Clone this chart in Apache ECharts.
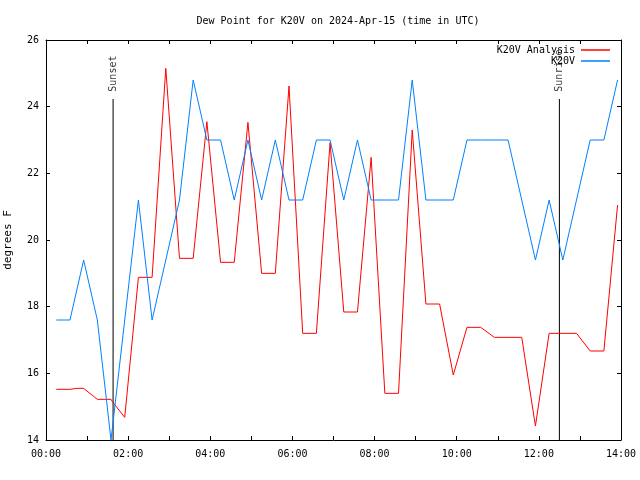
<!DOCTYPE html>
<html><head><meta charset="utf-8">
<script src="https://cdn.jsdelivr.net/npm/echarts@6/dist/echarts.min.js"></script>
<style>html,body{margin:0;padding:0;background:#fff}#c{width:640px;height:480px}</style>
</head><body><div id="c"></div>
<script>
const titleText = 'Dew Point for K20V on 2024-Apr-15 (time in UTC)';
const yAxisName = 'degrees F';
const seriesNames = ['K20V Analysis', 'K20V'];

const obsTimes = ['00:15','00:35','00:55','01:15','01:35','01:55','02:15','02:35','02:55','03:15',
  '03:35','03:55','04:15','04:35','04:55','05:15','05:35','05:55','06:15','06:35',
  '06:55','07:15','07:35','07:55','08:15','08:35','08:55','09:15','09:35','09:55',
  '10:15','10:35','10:55','11:15','11:35','11:55','12:15','12:35','12:55','13:15',
  '13:35','13:55'];
const obsValues = [17.6,17.6,19.4,17.6,14.0,17.6,21.2,17.6,19.4,21.2,
  24.8,23.0,23.0,21.2,23.0,21.2,23.0,21.2,21.2,23.0,
  23.0,21.2,23.0,21.2,21.2,21.2,24.8,21.2,21.2,21.2,
  23.0,23.0,23.0,23.0,21.2,19.4,21.2,19.4,21.2,23.0,
  23.0,24.8];

const anaTimes = ['00:15','00:35','00:45','00:55','01:15','01:35','01:37','01:55','02:15','02:35',
  '02:55','03:15','03:35','03:55','04:15','04:35','04:55','05:15','05:35','05:55',
  '06:15','06:35','06:55','07:15','07:35','07:55','08:15','08:35','08:55','09:15',
  '09:35','09:55','10:15','10:35','10:55','11:15','11:35','11:55','12:15','12:35',
  '12:55','13:15','13:35','13:55'];
const anaValues = [15.52,15.52,15.55,15.55,15.22,15.22,15.15,14.68,18.88,18.88,
  25.15,19.45,19.45,23.55,19.33,19.33,23.53,19.0,19.0,24.62,
  17.2,17.2,22.92,17.84,17.84,22.48,15.4,15.4,23.3,18.08,
  18.08,15.95,17.38,17.38,17.08,17.08,17.08,14.42,17.2,17.2,
  17.2,16.67,16.67,21.05];

const xTickLabels = ['00:00','02:00','04:00','06:00','08:00','10:00','12:00','14:00'];
const yTicks = [14,16,18,20,22,24,26];

const sunEvents = [
  {name:'Sunset', time:'01:38', lineTop:24.23, textStart:24.45},
  {name:'Sunrise', time:'12:30', lineTop:24.23, textStart:24.45}
];

function toH(s){const p=s.split(':');return (+p[0])+(+p[1])/60;}
const obsData = obsTimes.map((t,i)=>[toH(t), obsValues[i]]);
const anaData = anaTimes.map((t,i)=>[toH(t), anaValues[i]]);

const FONT = 'DejaVu Sans Mono';
const chart = echarts.init(document.getElementById('c'), null, {renderer:'canvas'});

const sunLineSeries = sunEvents.map(ev => ({
  type:'line', xAxisIndex:0, yAxisIndex:0, silent:true, symbol:'none',
  lineStyle:{color:'#000', width:1}, z:1,
  data:[[toH(ev.time), yTicks[0]],[toH(ev.time), ev.lineTop]]
}));
const sunTextSeries = sunEvents.map(ev => ({
  type:'scatter', xAxisIndex:0, yAxisIndex:0, silent:true, symbolSize:0, z:5,
  data:[[toH(ev.time), ev.textStart]],
  label:{show:true, position:'inside', formatter:ev.name, rotate:90, align:'left', verticalAlign:'middle',
    fontFamily:FONT, fontSize:10, color:'#000'}
}));

const axisCommon = {min:0, max:14, interval:1, type:'value',
  axisLine:{show:true, onZero:false, lineStyle:{color:'#000', width:1}},
  axisTick:{show:true, inside:true, length:4, lineStyle:{color:'#000'}},
  splitLine:{show:false}};
const yCommon = {type:'value', min:yTicks[0], max:yTicks[yTicks.length-1], interval:2,
  axisLine:{show:true, onZero:false, lineStyle:{color:'#000', width:1}},
  axisTick:{show:true, inside:true, length:4, lineStyle:{color:'#000'}},
  splitLine:{show:false}};

chart.setOption({
  animation:false,
  backgroundColor:'#fff',
  title:{text:titleText, left:333, top:11, textAlign:'center',
    textStyle:{fontFamily:FONT, fontSize:10, fontWeight:'normal', color:'#000'}},
  legend:{data:seriesNames, orient:'vertical', right:30, top:45, align:'right', padding:0,
    itemWidth:29, itemHeight:1.5, itemGap:1, icon:'rect',
    textStyle:{fontFamily:FONT, fontSize:10, color:'#000', padding:[0,1,0,0]}},
  grid:{left:46, right:19, top:40, bottom:40, containLabel:false, outerBoundsMode:'none'},
  xAxis:[
    Object.assign({}, axisCommon, {position:'bottom',
      axisLabel:{show:true, margin:9, fontFamily:FONT, fontSize:10, color:'#000', showMaxLabel:true, showMinLabel:true,
        formatter:v=>{const k=xTickLabels.findIndex(l=>toH(l)===v);return k>=0?xTickLabels[k]:'';}}}),
    Object.assign({}, axisCommon, {position:'top', axisLabel:{show:false}})
  ],
  yAxis:[
    Object.assign({}, yCommon, {position:'left', name:yAxisName, nameLocation:'middle', nameGap:32,
      nameTextStyle:{fontFamily:FONT, fontSize:11, color:'#000'},
      axisLabel:{show:true, margin:7, fontFamily:FONT, fontSize:10, color:'#000'}}),
    Object.assign({}, yCommon, {position:'right', axisLabel:{show:false}})
  ],
  series:[
    {name:seriesNames[0], type:'line', data:anaData, symbol:'none', xAxisIndex:0, yAxisIndex:0,
      lineStyle:{color:'#ff0000', width:1}, itemStyle:{color:'#ff0000'}, z:2},
    {name:seriesNames[1], type:'line', data:obsData, symbol:'none', xAxisIndex:0, yAxisIndex:0,
      lineStyle:{color:'#0080ff', width:1}, itemStyle:{color:'#0080ff'}, z:3},
    ...sunLineSeries,
    ...sunTextSeries
  ]
});
</script></body></html>
